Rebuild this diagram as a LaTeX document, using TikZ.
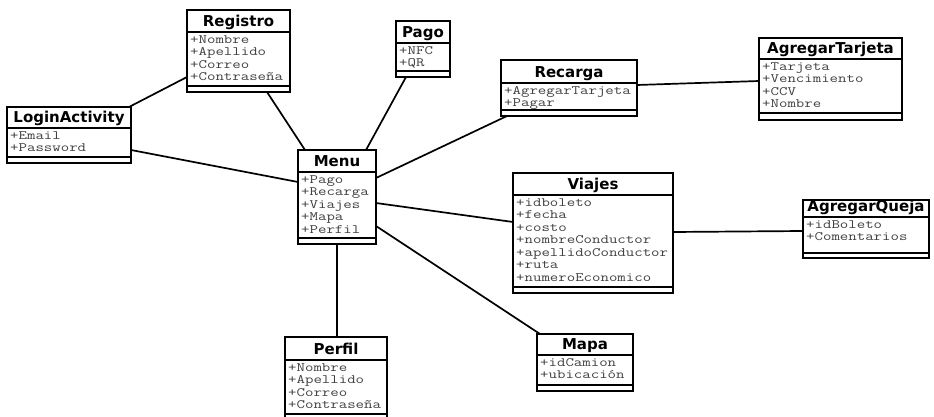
\documentclass[tikz,border=0pt]{standalone}
\usepackage{fontspec}
\newfontfamily\titlefont{DejaVu Sans}
\newfontfamily\attrmono{Latin Modern Mono}[FakeStretch=1.28]
\tikzset{
  classbox/.style={draw=black, line width=1.8pt, fill=white, inner sep=0pt, outer sep=0pt},
  divider/.style={draw=black, line width=1.5pt},
  classtitle/.style={anchor=base, inner sep=0pt, font=\titlefont\bfseries\fontsize{15}{17}\selectfont},
  attr/.style={anchor=base west, inner sep=0pt, text=black!75, font=\attrmono\fontsize{12.8}{14}\selectfont},
  conn/.style={draw=black, line width=1.7pt},
}
\newcommand{\umlclass}[9]{%
  \pgfmathsetmacro\clw{#4-#2}%
  \pgfmathsetmacro\clh{#7-#3}%
  \pgfmathsetmacro\clx{(#2+#4)/2}%
  \pgfmathsetmacro\cly{(#3+#7)/2}%
  \node[classbox, minimum width=\clw pt, minimum height=\clh pt] (#1) at (\clx,\cly) {};
  \draw[divider] (#2,#5) -- (#4,#5);
  \draw[divider] (#2,#6) -- (#4,#6);
  \node[classtitle] (#1-t) at (\clx,#5-5.5) {#8};
  \foreach \t [count=\i] in {#9} {\node[attr] (#1-a\i) at (#2+3,#5+11.3+\i*12.5-12.5) {\t};}
}
\begin{document}
\begin{tikzpicture}[x=1pt,y=-1pt]
\useasboundingbox (0,0) rectangle (934,417);
\clip (0,0) rectangle (934,417);
\fill[white] (0,0) rectangle (934,417);
% classes: id, x1, top, x2, divider, attrbottom, bottom, title, attrs
\umlclass{registro}{187}{10}{290}{32}{86}{92}{Registro}{+Nombre,+Apellido,+Correo,+Contraseña}
\umlclass{login}{7}{107}{131}{128}{157}{163}{LoginActivity}{+Email,+Password}
\umlclass{pago}{396}{21}{450}{43}{71}{77}{Pago}{+NFC,+QR}
\umlclass{recarga}{501}{60}{637}{83}{110}{116}{Recarga}{+AgregarTarjeta,+Pagar}
\umlclass{tarjeta}{759}{38}{902}{59}{113}{120}{AgregarTarjeta}{+Tarjeta,+Vencimiento,+CCV,+Nombre}
\umlclass{menu}{298}{150}{376}{172}{238}{244}{Menu}{+Pago,+Recarga,+Viajes,+Mapa,+Perfil}
\umlclass{viajes}{513}{173}{673}{195}{287}{293}{Viajes}{+idboleto,+fecha,+costo,+nombreConductor,+apellidoConductor,+ruta,+numeroEconomico}
\umlclass{queja}{803}{200}{929}{217}{253}{258}{AgregarQueja}{+idBoleto,+Comentarios}
\umlclass{perfil}{285}{337}{387}{360}{414}{422}{Perfil}{+Nombre,+Apellido,+Correo,+Contraseña}
\umlclass{mapa}{537}{334}{633}{355}{385}{391}{Mapa}{+idCamion,+ubicación}
% connectors
\draw[conn] ([xshift=-2pt]login.north east) -- ([yshift=-26pt]registro.west);
\draw[conn] ([xshift=28.5pt]registro.south) -- ([xshift=-32pt]menu.north);
\draw[conn] ([yshift=-15pt]login.east) -- ([yshift=15pt]menu.west);
\draw[conn] ([xshift=-17pt]pago.south) -- ([xshift=29pt]menu.north);
\draw[conn] ([xshift=6pt]recarga.south west) -- ([yshift=19pt]menu.east);
\draw[conn] ([yshift=3pt]recarga.east) -- ([yshift=-2pt]tarjeta.west);
\draw[conn] ([yshift=-6pt]menu.east) -- ([yshift=11pt]viajes.west);
\draw[conn] ([yshift=1pt]viajes.east) -- ([yshift=-2pt]queja.west);
\draw[conn] ([yshift=-29pt]menu.east) -- ([xshift=3pt]mapa.north west);
\draw[conn] (menu.south) -- (menu.south |- perfil.north);
\end{tikzpicture}
\end{document}
